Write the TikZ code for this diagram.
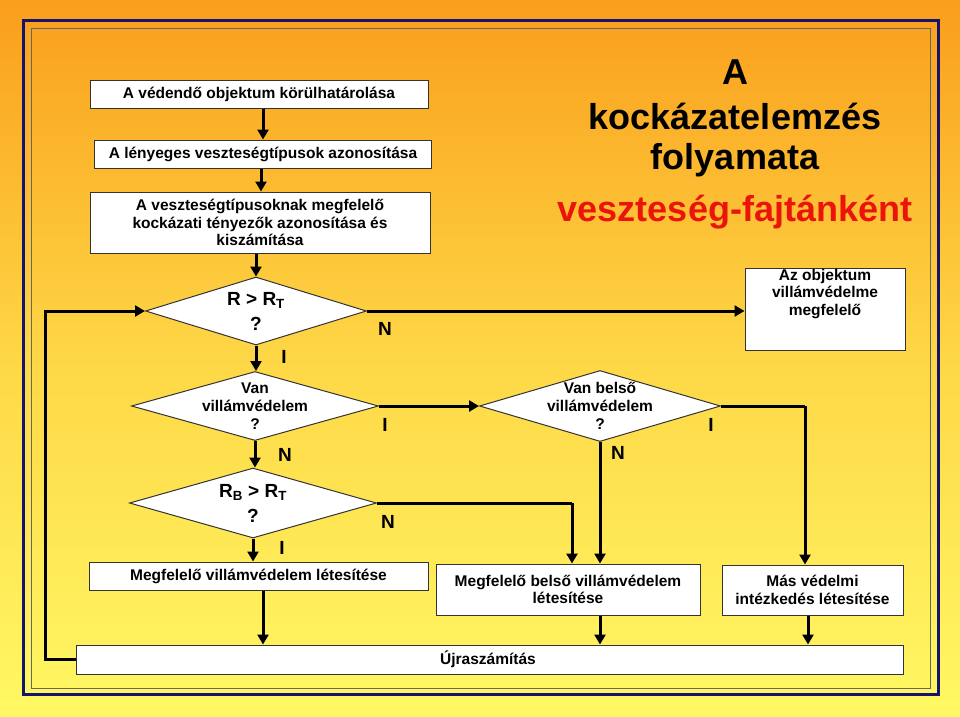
\documentclass[tikz,border=0pt]{standalone}
\usepackage{fontspec}
\setmainfont{Liberation Sans}
\usetikzlibrary{arrows.meta,shapes.geometric}
\definecolor{orTop}{RGB}{250,158,28}
\definecolor{orMid}{RGB}{254,215,70}
\definecolor{orBot}{RGB}{255,248,100}
\definecolor{frameblue}{RGB}{20,20,110}
\definecolor{titlered}{RGB}{235,20,10}
\tikzset{
  box/.style={draw=black!80,line width=1pt,fill=white,inner sep=0pt,align=center,font=\bfseries\fontsize{15.5}{17.5}\selectfont},
  dia/.style={draw=black!80,line width=1pt,fill=white,diamond,inner sep=0pt},
  dtext/.style={align=center,font=\bfseries\fontsize{15.5}{18}\selectfont},
  conn/.style={line width=3pt,-{Triangle[length=10pt,width=11pt]}},
  line/.style={line width=3pt},
  lbl/.style={font=\bfseries\fontsize{19}{19}\selectfont},
  ttl/.style={font=\bfseries\fontsize{36}{40}\selectfont,text=black}
}
\begin{document}
\begin{tikzpicture}[x=1pt,y=-1pt]
\useasboundingbox (0,0) rectangle (960,716);
\shade[top color=orTop,bottom color=orBot,middle color=orMid] (0,0) rectangle (960,716);
\draw[frameblue,line width=3pt] (23,20) rectangle (938,694);
\draw[black!60,line width=0.8pt] (31,28) rectangle (930,688);

\node[box,minimum width=338pt,minimum height=28pt] (b1) at (259,94) {A védendő objektum körülhatárolása};
\node[box,minimum width=337pt,minimum height=28pt] (b2) at (263,154) {A lényeges veszteségtípusok azonosítása};
\node[box,minimum width=340pt,minimum height=61pt] (b3) at (260,222.5) {A veszteségtípusoknak megfelelő\\kockázati tényezők azonosítása és\\kiszámítása};

\node[dia,minimum width=221pt,minimum height=68pt] (d1) at (256,311) {};
\node[dtext,font=\bfseries\fontsize{19}{25}\selectfont] at (d1) {R > R\textsubscript{T}\\?};
\node[dia,minimum width=247pt,minimum height=69pt] (d2) at (255,406) {};
\node[dtext] at (d2) {Van\\villámvédelem\\?};
\node[dia,minimum width=247pt,minimum height=70pt] (d3) at (253,503) {};
\node[dtext,font=\bfseries\fontsize{19}{25}\selectfont] at (d3) {R\textsubscript{B} > R\textsubscript{T}\\?};
\node[dia,minimum width=241pt,minimum height=71pt] (d4) at (600,406) {};
\node[dtext] at (d4) {Van belső\\villámvédelem\\?};

\node[box,minimum width=160pt,minimum height=82pt] (az) at (825,309) {Az objektum\\villámvédelme\\megfelelő\\[16pt]};
\node[box,minimum width=339pt,minimum height=28pt] (b4) at (258.5,576) {Megfelelő villámvédelem létesítése};
\node[box,minimum width=264pt,minimum height=51pt] (b5) at (568,589.5) {Megfelelő belső villámvédelem\\létesítése};
\node[box,minimum width=181pt,minimum height=50pt] (b6) at (812.5,590) {Más védelmi\\intézkedés létesítése};
\node[box,minimum width=827pt,minimum height=29pt] (uj) at (489.5,659.5) {};
\node[dtext] at (488,659.5) {Újraszámítás};

\draw[conn] (b1.south -| 263,0) -- (b2.north -| 263,0);
\draw[conn] (b2.south -| 261,0) -- (b3.north -| 261,0);
\draw[conn] (b3.south -| 256,0) -- (d1.north);
\draw[conn] (d1.south) -- (d2.north -| d1.south);
\draw[conn] (d2.south) -- (d3.north -| d2.south);
\draw[conn] (d3.south) -- (b4.north -| d3.south);
\draw[conn] (d1.east) -- (az.west |- d1.east);
\draw[conn] (d2.east) -- (d4.west);
\draw[line] (d4.east) -- (805,406);
\draw[conn] (805,406) -- (b6.north -| 805,0);
\draw[conn] (d4.south) -- (b5.north -| d4.south);
\draw[line] (d3.east) -- (572,503);
\draw[conn] (572,503) -- (b5.north -| 572,0);
\draw[conn] (b4.south -| 263,0) -- (uj.north -| 263,0);
\draw[conn] (b5.south -| 600,0) -- (uj.north -| 600,0);
\draw[conn] (b6.south -| 808,0) -- (uj.north -| 808,0);
\coordinate (lp) at (45,311);
\draw[conn] (uj.west) -| (lp) -- (d1.west);

\node[lbl] at (385,329) {N};
\node[lbl] at (284,357) {I};
\node[lbl] at (385,425) {I};
\node[lbl] at (285,455) {N};
\node[lbl] at (388,522) {N};
\node[lbl] at (282,548) {I};
\node[lbl] at (618,453) {N};
\node[lbl] at (711,425) {I};

\node[ttl] at (735,72) {A};
\node[ttl] at (735,116) {kockázatelemzés};
\node[ttl] at (735,160) {folyamata};
\node[ttl,text=titlered] at (735,212) {veszteség-fajtánként};
\end{tikzpicture}
\end{document}
